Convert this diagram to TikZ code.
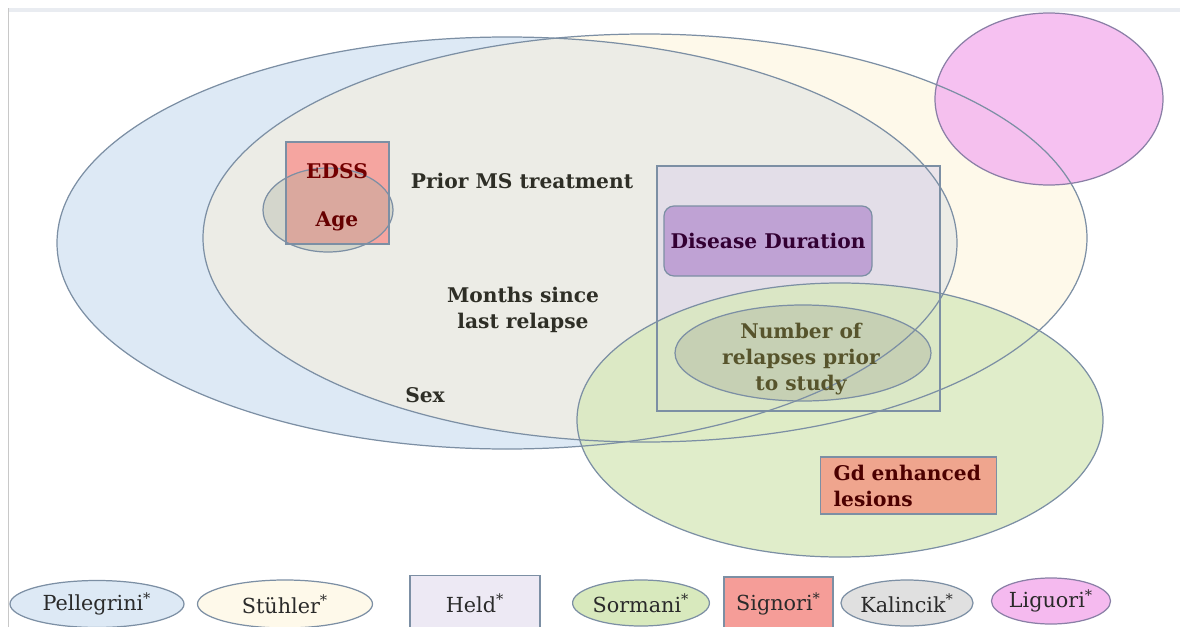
\documentclass[tikz,border=0pt]{standalone}
\usepackage{fontspec}
\setmainfont{DejaVu Serif}
\usetikzlibrary{shapes.geometric}
\definecolor{pellegrinifill}{HTML}{DDE9F5}
\definecolor{stuhlerfill}{HTML}{FEF9EA}
\definecolor{sharedfill}{HTML}{ECECE6}
\definecolor{liguorifill}{HTML}{F5BAEF}
\definecolor{heldfill}{HTML}{DCD3EA}
\definecolor{sormanifill}{HTML}{D8E9BD}
\definecolor{signorifill}{HTML}{F5A5A0}
\definecolor{kalincikfill}{HTML}{E0E0E0}
\definecolor{relapsefill}{HTML}{A9AF9C}
\definecolor{durationfill}{HTML}{BFA2D4}
\definecolor{gdfill}{HTML}{EFA58E}
\definecolor{rimline}{HTML}{7C8FA4}
\definecolor{rimpink}{HTML}{8A7FA6}
\definecolor{framegray}{HTML}{E9ECF1}
\definecolor{framedark}{HTML}{C8C8C8}
\definecolor{labeltext}{HTML}{2E2E26}
\definecolor{legendtext}{HTML}{2A2A2A}

\begin{document}
\begin{tikzpicture}[x=0.2mm,y=-0.2mm,
    rim/.style={draw=rimline,line width=0.7pt},
    lbl/.style={font=\bfseries\fontsize{11.5}{14.8}\selectfont,text=labeltext,align=center,inner sep=0pt},
    legend/.style={rim,font=\fontsize{11.8}{14}\selectfont,text=legendtext,inner sep=0pt},
    legendoval/.style={legend,ellipse}]
    \useasboundingbox (0,0) rectangle (1180,627);

    % Slide frame
    \fill[framegray] (8,8) rectangle (1180,12);
    \draw[framedark,line width=0.8pt] (8.5,8) -- (8.5,627);

    % Pellegrini and Stuhler, with the part they share
    \fill[pellegrinifill] (507,243) ellipse [x radius=450,y radius=206];
    \fill[stuhlerfill] (645,238) ellipse [x radius=442,y radius=204];
    \begin{scope}
        \clip (507,243) ellipse [x radius=450,y radius=206];
        \fill[sharedfill] (645,238) ellipse [x radius=442,y radius=204];
    \end{scope}
    % Liguori
    \fill[liguorifill,opacity=0.9] (1049,99) ellipse [x radius=114,y radius=86];
    % Held
    \fill[heldfill,opacity=0.55] (657,166) rectangle (940,411);
    % Sormani
    \fill[sormanifill,opacity=0.8] (840,420) ellipse [x radius=263,y radius=137];
    \fill[relapsefill,opacity=0.4] (803,353) ellipse [x radius=128,y radius=48];
    % Signori and Kalincik on the left
    \fill[signorifill] (286,142) rectangle (389,244);
    \fill[relapsefill,opacity=0.35] (328,210) ellipse [x radius=65,y radius=42];

    % Outlines
    \draw[rim] (507,243) ellipse [x radius=450,y radius=206];
    \draw[rim] (645,238) ellipse [x radius=442,y radius=204];
    \draw[rim,draw=rimpink] (1049,99) ellipse [x radius=114,y radius=86];
    \draw[rim] (657,166) rectangle (940,411);
    \draw[rim] (840,420) ellipse [x radius=263,y radius=137];
    \draw[rim] (803,353) ellipse [x radius=128,y radius=48];
    \draw[rim] (286,142) rectangle (389,244);
    \draw[rim] (328,210) ellipse [x radius=65,y radius=42];

    % Variables
    \node[lbl] (prior_ms) at (522,181) {Prior MS treatment};
    \node[lbl] (months) at (523,310) {Months since\\last relapse};
    \node[lbl] (sex) at (425,395) {Sex};
    \node[lbl,text=red!45!black] (edss) at (337,171) {EDSS};
    \node[lbl,text=red!40!black] (age) at (337,221) {Age};
    \node[lbl,rim,fill=durationfill,rounded corners=2mm,minimum width=41.6mm,
          minimum height=14mm,text=violet!40!black] (duration) at (768,241) {Disease Duration};
    \node[lbl,text=olive!50!black] (relapses) at (801,359) {Number of\\relapses prior\\to study};
    \node[lbl,rim,fill=gdfill,align=left,text width=30mm,inner xsep=2.6mm,
          minimum height=11.4mm,text=red!30!black] (gd) at (908.5,485.5) {Gd enhanced\\lesions};

    % Legend
    \node[legendoval,fill=pellegrinifill,minimum width=34.8mm,minimum height=9.4mm] (pellegrini) at (97,604) {Pellegrini\textsuperscript{*}};
    \node[legendoval,fill=stuhlerfill,minimum width=35mm,minimum height=9.6mm] (stuhler) at (285,604) {Stühler\textsuperscript{*}};
    \node[legend,fill=heldfill!50,minimum width=26mm,minimum height=11mm] (held) at (475,603) {Held\textsuperscript{*}};
    \node[legendoval,fill=sormanifill,minimum width=25.6mm,minimum height=9.2mm] (sormani) at (641,603) {Sormani\textsuperscript{*}};
    \node[legend,fill=signorifill!95!red,minimum width=21.8mm,minimum height=10.8mm] (signori) at (778.5,604) {Signori\textsuperscript{*}};
    \node[legendoval,fill=kalincikfill,minimum width=25.6mm,minimum height=9.2mm] (kalincik) at (907,603) {Kalincik\textsuperscript{*}};
    \node[legendoval,draw=rimpink,fill=liguorifill,minimum width=23.6mm,minimum height=9.2mm] (liguori) at (1051,601) {Liguori\textsuperscript{*}};
\end{tikzpicture}
\end{document}
